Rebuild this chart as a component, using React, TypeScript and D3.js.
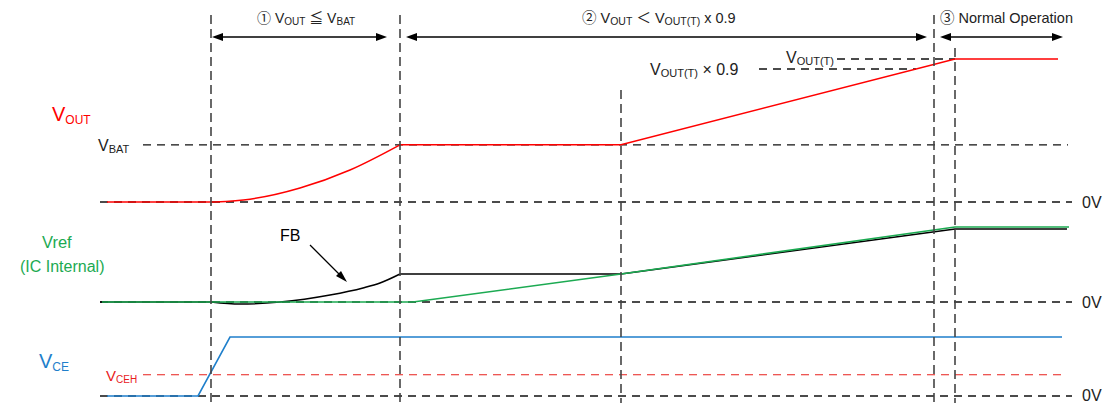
import React from 'react';
import * as d3 from 'd3';

const W = 1105;
const H = 403;
const FONT = "'Liberation Sans', Arial, 'Noto Sans CJK JP', 'DejaVu Sans', sans-serif";

// ---- time axis (arbitrary units) ----
const EVENT_T = [11.1, 30.0, 52.1, 83.4, 85.5];
const PHASE_SPANS: [number, number][] = [[11.2, 28.7], [30.6, 82.7], [84.0, 96.3]];

// ---- VOUT (V) ----
const VBAT = 2.0;
const VOUT_TARGET = 5.0;
const VOUT_TARGET_09 = 4.65;
const VOUT_T = [0.7, 11.5, 15, 20, 25, 30, 52.1, 85.5, 95.8];
const VOUT_V = [0, 0, 0.1, 0.49, 1.12, 2.0, 2.0, 5.0, 5.0];
const VOUT_SMOOTH: [number, number] = [1, 5];

// ---- Vref / FB (normalised) ----
const FB_T = [0, 11.1, 14, 18, 23, 26.3, 28, 30, 52.1, 85.5, 96.7];
const FB_V = [0, 0, -0.027, 0, 0.093, 0.187, 0.253, 0.373, 0.373, 0.973, 0.973];
const FB_SMOOTH: [number, number] = [1, 7];
const VREF_T = [0.2, 31.3, 52.1, 85.5, 96.9];
const VREF_V = [0, 0, 0.373, 1.0, 1.0];

// ---- VCE (normalised) ----
const VCE_T = [0.7, 9.8, 13.0, 96.2];
const VCE_V = [0, 0, 1, 1];
const VCEH = 0.36;

const RED = '#ff0000';
const GREEN = '#1caa52';
const BLUE = '#1f7fcb';
const INK = '#222';

type Part = [string, boolean];

function Rich({ x, y, parts, size, subSize, fill, shift = 3 }: { x: number; y: number; parts: Part[]; size: number; subSize: number; fill: string; shift?: number }) {
  let cur = 0;
  return (
    <text x={x} y={y} fill={fill} fontFamily={FONT} fontSize={size}>
      {parts.map(([s, sub], i) => {
        const target = sub ? shift : 0;
        const dy = target - cur;
        cur = target;
        return (
          <tspan key={i} dy={dy} fontSize={sub ? subSize : size}>{s}</tspan>
        );
      })}
    </text>
  );
}

function Arrow({ x1, x2, y }: { x1: number; x2: number; y: number }) {
  const L = 11, h = 4;
  return (
    <g>
      <line x1={x1 + L - 1} x2={x2 - L + 1} y1={y} y2={y} stroke="#000" strokeWidth={1.4} />
      <polygon points={`${x1},${y} ${x1 + L},${y - h} ${x1 + L},${y + h}`} fill="#000" />
      <polygon points={`${x2},${y} ${x2 - L},${y - h} ${x2 - L},${y + h}`} fill="#000" />
    </g>
  );
}

export default function App() {
  const x = d3.scaleLinear().domain([0, 97]).range([100, 1070]);
  const yOut = d3.scaleLinear().domain([0, 5]).range([202, 59]);
  const yRef = d3.scaleLinear().domain([0, 1]).range([302, 227]);
  const yCe = d3.scaleLinear().domain([0, 1]).range([396, 337]);

  const seg = (T: number[], V: number[], y: d3.ScaleLinear<number, number>, smooth: [number, number] | null) => {
    const pts: [number, number][] = T.map((t, i) => [x(t), y(V[i])]);
    const lin = d3.line().curve(d3.curveLinear);
    if (!smooth) return [lin(pts) as string];
    const mono = d3.line().curve(d3.curveMonotoneX);
    return [
      lin(pts.slice(0, smooth[0] + 1)) as string,
      mono(pts.slice(smooth[0], smooth[1] + 1)) as string,
      lin(pts.slice(smooth[1])) as string,
    ];
  };

  const voutPaths = seg(VOUT_T, VOUT_V, yOut, VOUT_SMOOTH);
  const fbPaths = seg(FB_T, FB_V, yRef, FB_SMOOTH);
  const vrefPaths = seg(VREF_T, VREF_V, yRef, null);
  const vcePaths = seg(VCE_T, VCE_V, yCe, null);

  const vTops = [15, 15, 90, 15, 48];
  const hDash = { stroke: '#111', strokeWidth: 1.3, strokeDasharray: '8 6', fill: 'none' } as const;

  // crossing of VOUT ramp with 0.9 level
  const rampT0 = VOUT_T[6], rampT1 = VOUT_T[7];
  const t09 = rampT0 + (VOUT_TARGET_09 - VOUT_V[6]) / (VOUT_V[7] - VOUT_V[6]) * (rampT1 - rampT0);

  return (
    <svg width={W} height={H} style={{ position: 'absolute', left: 0, top: 0, background: '#fff' }}>
      {/* horizontal reference dashes */}
      <line x1={143} x2={1068} y1={yOut(VBAT)} y2={yOut(VBAT)} {...hDash} />
      <line x1={100} x2={1072} y1={yOut(0)} y2={yOut(0)} {...hDash} />
      <line x1={837} x2={x(EVENT_T[4])} y1={yOut(VOUT_TARGET)} y2={yOut(VOUT_TARGET)} {...hDash} />
      <line x1={759} x2={x(t09)} y1={yOut(VOUT_TARGET_09)} y2={yOut(VOUT_TARGET_09)} {...hDash} />
      <line x1={100} x2={1072} y1={yRef(0)} y2={yRef(0)} {...hDash} />
      <line x1={100} x2={1072} y1={yCe(0)} y2={yCe(0)} {...hDash} />
      <line x1={143} x2={1063} y1={yCe(VCEH)} y2={yCe(VCEH)} stroke="#e8201c" strokeWidth={1.2} strokeDasharray="8 6" />

      {/* signals */}
      {voutPaths.map((d, i) => <path key={'o' + i} d={d} fill="none" stroke={RED} strokeWidth={1.5} />)}
      {fbPaths.map((d, i) => <path key={'f' + i} d={d} fill="none" stroke="#000" strokeWidth={1.5} />)}
      {vrefPaths.map((d, i) => <path key={'r' + i} d={d} fill="none" stroke={GREEN} strokeWidth={1.6} />)}
      {vcePaths.map((d, i) => <path key={'c' + i} d={d} fill="none" stroke={BLUE} strokeWidth={1.6} />)}

      {/* vertical event lines */}
      {EVENT_T.map((t, i) => (
        <line key={'v' + i} x1={x(t)} x2={x(t)} y1={vTops[i]} y2={H} stroke="#444" strokeWidth={1.6} strokeDasharray="9 5" />
      ))}

      {/* phase arrows */}
      {PHASE_SPANS.map(([a, b], i) => <Arrow key={'a' + i} x1={x(a)} x2={x(b)} y={37} />)}

      {/* phase labels */}
      <Rich x={257} y={23} size={14} subSize={10} fill={INK} shift={2}
        parts={[['① V', false], ['OUT', true], [' ≦ V', false], ['BAT', true]]} />
      <Rich x={582} y={23} size={14.5} subSize={10.5} fill={INK} shift={2}
        parts={[['② V', false], ['OUT', true], [' ＜ V', false], ['OUT(T)', true], [' x 0.9', false]]} />
      <Rich x={940} y={23} size={14.5} subSize={10} fill={INK}
        parts={[['③ Normal Operation', false]]} />

      {/* level labels */}
      <Rich x={786} y={63} size={16} subSize={11} fill={INK} shift={2}
        parts={[['V', false], ['OUT(T)', true]]} />
      <Rich x={650} y={75} size={16} subSize={11} fill={INK} shift={2}
        parts={[['V', false], ['OUT(T)', true], [' × 0.9', false]]} />
      <Rich x={98} y={151} size={16} subSize={11} fill={INK} shift={1.5}
        parts={[['V', false], ['BAT', true]]} />
      <Rich x={106} y={381} size={15} subSize={10} fill="#e8201c" shift={2}
        parts={[['V', false], ['CEH', true]]} />

      {/* signal names */}
      <Rich x={52} y={121} size={20} subSize={12} fill={RED} shift={2.5}
        parts={[['V', false], ['OUT', true]]} />
      <text x={42} y={248} fill={GREEN} fontFamily={FONT} fontSize={16.5}>Vref</text>
      <text x={20} y={272} fill={GREEN} fontFamily={FONT} fontSize={16}>(IC Internal)</text>
      <Rich x={39} y={368} size={20} subSize={12} fill={BLUE} shift={3}
        parts={[['V', false], ['CE', true]]} />

      {/* FB annotation */}
      <text x={280} y={241} fill="#000" fontFamily={FONT} fontSize={16}>FB</text>
      <line x1={310} y1={245} x2={342} y2={277} stroke="#000" strokeWidth={1.3} />
      <polygon points="347,282 336,276 341,271" fill="#000" />

      {/* 0V labels */}
      {[yOut(0), yRef(0), yCe(0)].map((y, i) => (
        <text key={'z' + i} x={1082} y={Math.min(y + 6, H - 2)} fill={INK} fontFamily={FONT} fontSize={16}>0V</text>
      ))}
    </svg>
  );
}
